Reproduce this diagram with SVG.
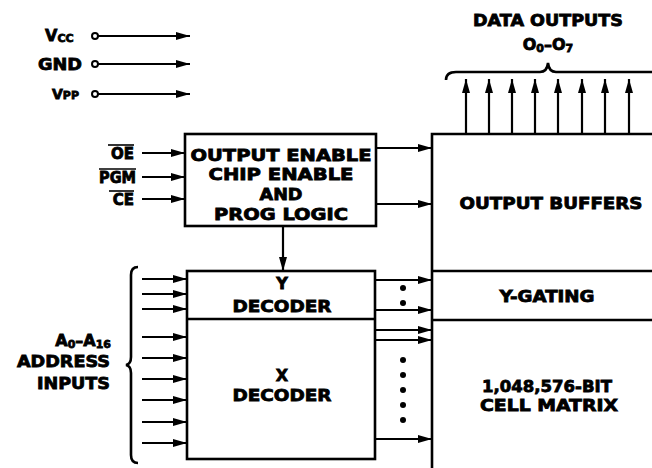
<svg xmlns="http://www.w3.org/2000/svg" width="652" height="468" viewBox="0 0 652 468">
<style>
text{font-family:"DejaVu Sans","Liberation Sans",Arial,sans-serif;font-weight:bold;font-size:16px;fill:#000;stroke:#000;stroke-width:0.8}
.m{text-anchor:middle}
.e{text-anchor:end}
.sub{font-size:11px}
.box{fill:#fff;stroke:#000;stroke-width:2.6}
.ln{fill:none;stroke:#000;stroke-width:2.6}
.w{fill:none;stroke:#000;stroke-width:2.2}
.br{fill:none;stroke:#000;stroke-width:2.6}
.ov{stroke:#000;stroke-width:1.6}
</style>
<defs>
<marker id="a" markerUnits="userSpaceOnUse" markerWidth="14" markerHeight="8" refX="14" refY="4" orient="auto">
<path d="M0,0 L14,4 L0,8 z" fill="#000"/>
</marker>
</defs>
<rect width="652" height="468" fill="#fff"/>

<g id="power">
<text x="45" y="41">V<tspan class="sub" dy="1">CC</tspan></text>
<text x="82" y="70" class="e" textLength="44" lengthAdjust="spacingAndGlyphs">GND</text>
<text x="52" y="99" style="font-size:14px">V<tspan class="sub">PP</tspan></text>
<circle cx="95" cy="36" r="3" fill="#fff" stroke="#000" stroke-width="2"/>
<circle cx="95" cy="64" r="3" fill="#fff" stroke="#000" stroke-width="2"/>
<circle cx="95" cy="94" r="3" fill="#fff" stroke="#000" stroke-width="2"/>
</g>

<g id="controls">
<text x="134" y="159" class="e" style="font-size:15px">OE</text>
<line class="ov" x1="108" y1="145" x2="134" y2="145"/>
<text x="136" y="183" class="e" style="font-size:15px" textLength="37" lengthAdjust="spacingAndGlyphs">PGM</text>
<line class="ov" x1="99" y1="169" x2="136" y2="169"/>
<text x="134" y="205" class="e" style="font-size:15px">CE</text>
<line class="ov" x1="109" y1="191" x2="134" y2="191"/>
</g>

<g id="logic">
<rect class="box" x="185" y="134" width="191" height="92"/>
<text x="281" y="161" class="m" textLength="181" lengthAdjust="spacingAndGlyphs">OUTPUT ENABLE</text>
<text x="281" y="180" class="m" textLength="145" lengthAdjust="spacingAndGlyphs">CHIP ENABLE</text>
<text x="281" y="200" class="m" textLength="43" lengthAdjust="spacingAndGlyphs">AND</text>
<text x="281" y="220" class="m" textLength="134" lengthAdjust="spacingAndGlyphs">PROG LOGIC</text>
</g>

<g id="decoders">
<rect class="box" x="187" y="271" width="188" height="188"/>
<line class="ln" x1="187" y1="319" x2="375" y2="319"/>
<text x="282" y="289" class="m">Y</text>
<text x="282" y="312" class="m" textLength="99" lengthAdjust="spacingAndGlyphs">DECODER</text>
<text x="282" y="381" class="m">X</text>
<text x="282" y="401" class="m" textLength="99" lengthAdjust="spacingAndGlyphs">DECODER</text>
</g>

<g id="array">
<path class="ln" d="M652,134 H432 V468" stroke-width="3"/>
<line class="ln" x1="432" y1="271" x2="652" y2="271"/>
<line class="ln" x1="432" y1="320" x2="652" y2="320"/>
<text x="551" y="209" class="m" textLength="183" lengthAdjust="spacingAndGlyphs">OUTPUT BUFFERS</text>
<text x="547" y="302" class="m" textLength="95" lengthAdjust="spacingAndGlyphs">Y-GATING</text>
<text x="547" y="392" class="m" textLength="130" lengthAdjust="spacingAndGlyphs">1,048,576-BIT</text>
<text x="549" y="411" class="m" textLength="138" lengthAdjust="spacingAndGlyphs">CELL MATRIX</text>
</g>

<g id="outputs-label">
<text x="548" y="26" class="m" textLength="150" lengthAdjust="spacingAndGlyphs">DATA OUTPUTS</text>
<text x="548" y="50" class="m">O<tspan class="sub" dy="2">0</tspan><tspan dy="-2">–O</tspan><tspan class="sub" dy="2">7</tspan></text>
<path class="br" d="M446,80 Q446,72 456,72 H540 Q547,72 548,63 Q549,72 556,72 H652"/>
</g>

<g id="address-label">
<text x="111" y="346" class="e">A<tspan class="sub" dy="2">0</tspan><tspan dy="-2">–A</tspan><tspan class="sub" dy="2">16</tspan></text>
<text x="110" y="367" class="e" textLength="93" lengthAdjust="spacingAndGlyphs">ADDRESS</text>
<text x="110" y="389" class="e" textLength="73" lengthAdjust="spacingAndGlyphs">INPUTS</text>
<path class="br" d="M138,267 Q131,267 131,275 V357 Q131,364 126,365 Q131,366 131,373 V455 Q131,463 138,463"/>
</g>

<g id="connectors" class="w" marker-end="url(#a)">
<line x1="98" y1="36" x2="190" y2="36"/>
<line x1="98" y1="64" x2="190" y2="64"/>
<line x1="98" y1="94" x2="190" y2="94"/>
<line x1="142" y1="153" x2="185" y2="153"/>
<line x1="142" y1="177" x2="185" y2="177"/>
<line x1="142" y1="199" x2="185" y2="199"/>
<line x1="376" y1="148" x2="432" y2="148"/>
<line x1="376" y1="204" x2="432" y2="204"/>
<line x1="283" y1="226" x2="283" y2="271"/>
<line x1="142" y1="279" x2="187" y2="279"/>
<line x1="142" y1="294" x2="187" y2="294"/>
<line x1="142" y1="309" x2="187" y2="309"/>
<line x1="142" y1="337" x2="187" y2="337"/>
<line x1="142" y1="358" x2="187" y2="358"/>
<line x1="142" y1="379" x2="187" y2="379"/>
<line x1="142" y1="400" x2="187" y2="400"/>
<line x1="142" y1="422" x2="187" y2="422"/>
<line x1="142" y1="443" x2="187" y2="443"/>
<line x1="375" y1="280" x2="432" y2="280"/>
<line x1="375" y1="310" x2="432" y2="310"/>
<line x1="375" y1="330" x2="432" y2="330"/>
<line x1="375" y1="340" x2="432" y2="340"/>
<line x1="375" y1="439" x2="432" y2="439"/>
<line x1="466" y1="134" x2="466" y2="79"/>
<line x1="489" y1="134" x2="489" y2="79"/>
<line x1="512" y1="134" x2="512" y2="79"/>
<line x1="535" y1="134" x2="535" y2="79"/>
<line x1="558" y1="134" x2="558" y2="79"/>
<line x1="582" y1="134" x2="582" y2="79"/>
<line x1="605" y1="134" x2="605" y2="79"/>
<line x1="629" y1="134" x2="629" y2="79"/>
</g>

<g id="dots" fill="#000">
<circle cx="403" cy="288" r="3"/>
<circle cx="403" cy="303" r="3"/>
<circle cx="403" cy="360" r="3"/>
<circle cx="403" cy="375" r="3"/>
<circle cx="403" cy="390" r="3"/>
<circle cx="403" cy="405" r="3"/>
<circle cx="403" cy="420" r="3"/>
</g>
</svg>
